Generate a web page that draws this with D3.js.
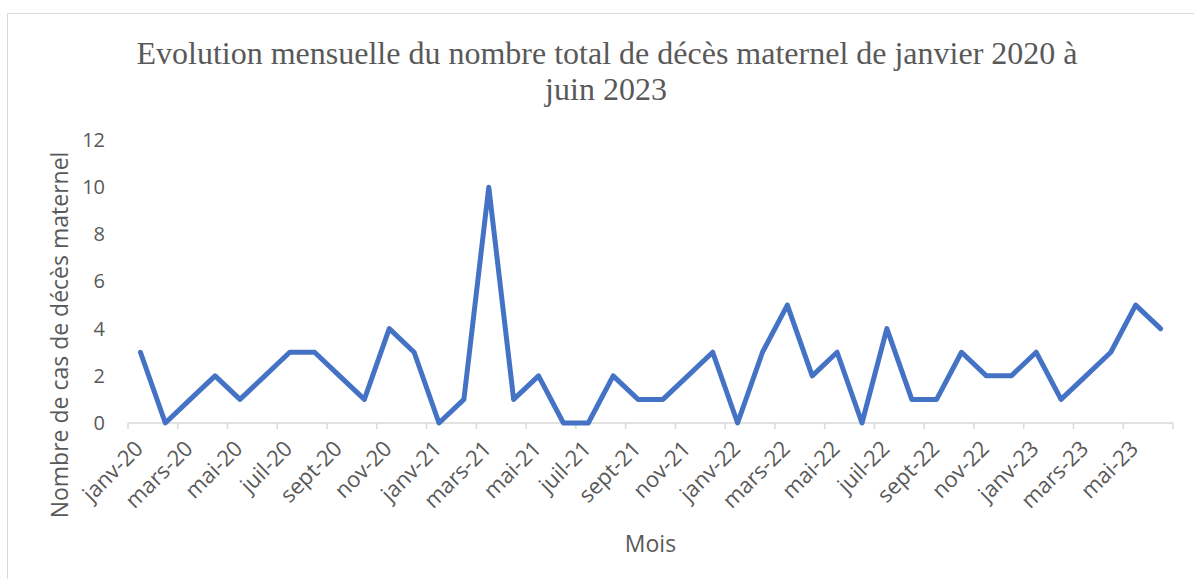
<!DOCTYPE html>
<meta charset="utf-8">
<script src="https://d3js.org/d3.v7.min.js"></script>
<style>
body { margin: 0; background: #fff; }
svg { font-family: "Open Sans", sans-serif; }
.title { font-family: "Liberation Serif", serif; font-size: 32px; fill: #595959; }
.axis-title { fill: #595959; font-size: 23px; }
</style>
<body>
<div id="chart"></div>
<script>
// months janv-20 .. juin-23
var monthNames = ["janv", "févr", "mars", "avr", "mai", "juin", "juil", "août", "sept", "oct", "nov", "déc"];
var years = ["20", "21", "22", "23"];
var deaths2020 = [3, 0, 1, 2, 1, 2, 3, 3, 2, 1, 4, 3];
var deaths2021 = [0, 1, 10, 1, 2, 0, 0, 2, 1, 1, 2, 3];
var deaths2022 = [0, 3, 5, 2, 3, 0, 4, 1, 1, 3, 2, 2];
var deaths2023 = [3, 1, 2, 3, 5, 4];
var yTicks = [0, 2, 4, 6, 8, 10, 12];

var values = deaths2020.concat(deaths2021, deaths2022, deaths2023);
var months = values.map(function(v, i) {
  return monthNames[i % 12] + "-" + years[Math.floor(i / 12)];
});
var data = months.map(function(m, i) { return {month: m, value: values[i]}; });

var width = 1194, height = 579;
var plotLeft = 128, plotRight = 1173, plotTop = 140, plotBottom = 423;

var svg = d3.select("#chart").append("svg")
  .attr("width", width)
  .attr("height", height);

// chart border
svg.append("rect")
  .attr("x", 7.5).attr("y", 13.5)
  .attr("width", 1300).attr("height", 700)
  .attr("fill", "none")
  .attr("stroke", "#d9d9d9");

var x = d3.scaleBand()
  .domain(months)
  .range([plotLeft, plotRight])
  .padding(0);

var y = d3.scaleLinear()
  .domain([0, 12])
  .range([plotBottom, plotTop]);

// y axis labels (no line)
var yAxis = svg.append("g")
  .attr("transform", "translate(" + plotLeft + ",0)")
  .call(d3.axisLeft(y).tickValues(yTicks).tickSize(0).tickPadding(23));
yAxis.select(".domain").remove();
yAxis.attr("font-family", "Open Sans").attr("font-size", 20);
yAxis.selectAll("text").attr("fill", "#595959");

// x axis
var xAxis = svg.append("g")
  .attr("transform", "translate(0," + plotBottom + ")")
  .call(d3.axisBottom(x)
    .tickValues(months.filter(function(m, i) { return i % 2 == 0; }))
    .tickSize(0));
xAxis.select(".domain").remove();
xAxis.attr("font-family", "Open Sans").attr("font-size", 22);
xAxis.selectAll("text")
  .attr("fill", "#595959")
  .attr("text-anchor", "end")
  .attr("dy", null)
  .attr("x", 0).attr("y", 0)
  .attr("transform", "translate(4,27) rotate(-45)");

svg.append("line")
  .attr("x1", plotLeft).attr("x2", plotRight)
  .attr("y1", plotBottom).attr("y2", plotBottom)
  .attr("stroke", "#d9d9d9").attr("stroke-width", 1.5);

// tick marks at category boundaries, every 2 months
var boundaries = d3.range(0, months.length + 1, 2);
svg.selectAll(".xtick")
  .data(boundaries)
  .enter()
  .append("line")
    .attr("class", "xtick")
    .attr("x1", function(i) { return plotLeft + i * x.bandwidth(); })
    .attr("x2", function(i) { return plotLeft + i * x.bandwidth(); })
    .attr("y1", plotBottom).attr("y2", plotBottom + 6)
    .attr("stroke", "#d9d9d9").attr("stroke-width", 1.5);

var line = d3.line()
  .x(function(d) { return x(d.month) + x.bandwidth() / 2; })
  .y(function(d) { return y(d.value); });

svg.append("path")
  .datum(data)
  .attr("d", line)
  .attr("fill", "none")
  .attr("stroke", "#4472c4")
  .attr("stroke-width", 5)
  .attr("stroke-linejoin", "round")
  .attr("stroke-linecap", "round");

// titles
svg.append("text")
  .attr("class", "title")
  .attr("text-anchor", "middle")
  .attr("x", 607).attr("y", 64)
  .text("Evolution mensuelle du nombre total de décès maternel de janvier 2020 à");
svg.append("text")
  .attr("class", "title")
  .attr("text-anchor", "middle")
  .attr("x", 606).attr("y", 100)
  .text("juin 2023");

svg.append("text")
  .attr("class", "axis-title")
  .attr("text-anchor", "middle")
  .attr("transform", "translate(68,335) rotate(-90)")
  .text("Nombre de cas de décès maternel");

svg.append("text")
  .attr("class", "axis-title")
  .attr("text-anchor", "middle")
  .attr("x", (plotLeft + plotRight) / 2).attr("y", 552)
  .text("Mois");
</script>
</body>
